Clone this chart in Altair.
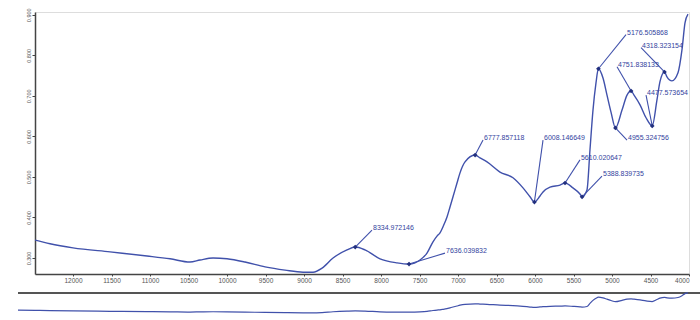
import altair as alt
import pandas as pd

# ---- main spectrum (wavenumber, absorbance) ----
wavenumber = [12715, 12494, 12299, 12000, 11519, 11039, 10740, 10481, 10351, 10182,
              10000, 9766, 9506, 9247, 9013, 8883, 8766, 8623, 8442, 8335,
              8208, 8013, 7792, 7636, 7494, 7403, 7325, 7273, 7234, 7195,
              7143, 7104, 7065, 7013, 6974, 6909, 6778, 6714, 6623, 6455,
              6286, 6156, 6065, 6008, 5935, 5896, 5805, 5675, 5610, 5507,
              5416, 5389, 5325, 5286, 5247, 5208, 5177, 5117, 5065, 5013,
              4955, 4870, 4805, 4752, 4714, 4636, 4558, 4478, 4416, 4377,
              4318, 4286, 4221, 4143, 4091, 4052, 4013]
absorbance = [0.350, 0.344, 0.335, 0.325, 0.315, 0.305, 0.298, 0.290, 0.295, 0.300,
              0.298, 0.290, 0.278, 0.270, 0.265, 0.265, 0.275, 0.300, 0.320, 0.327,
              0.320, 0.298, 0.288, 0.285, 0.295, 0.312, 0.340, 0.354, 0.362, 0.377,
              0.401, 0.426, 0.451, 0.485, 0.510, 0.537, 0.554, 0.547, 0.537, 0.512,
              0.498, 0.473, 0.451, 0.438, 0.453, 0.463, 0.475, 0.480, 0.485, 0.473,
              0.458, 0.451, 0.468, 0.567, 0.665, 0.732, 0.767, 0.744, 0.702, 0.660,
              0.621, 0.665, 0.702, 0.712, 0.702, 0.678, 0.646, 0.626, 0.690, 0.735,
              0.759, 0.747, 0.737, 0.757, 0.814, 0.880, 0.902]

# ---- peak annotations ----
peak_labels = ["8334.972146", "7636.039832", "6777.857118", "6008.146649", "5610.020647",
               "5388.839735", "5176.505868", "4751.838133", "4955.324756", "4477.573654",
               "4318.323154"]
peak_w = [8334.97, 7636.04, 6777.86, 6008.15, 5610.02, 5388.84, 5176.51, 4751.84, 4955.32, 4477.57, 4318.32]
peak_v = [0.327, 0.285, 0.554, 0.438, 0.485, 0.451, 0.767, 0.712, 0.621, 0.626, 0.759]
label_w = [8117, 7169, 6675, 5896, 5416, 5130, 4818, 4935, 4805, 4558, 4623]
label_v = [0.369, 0.312, 0.591, 0.591, 0.542, 0.502, 0.851, 0.772, 0.591, 0.702, 0.819]

x_ticks = [12000, 11500, 11000, 10500, 10000, 9500, 9000, 8500, 8000, 7500, 7000,
           6500, 6000, 5500, 5000, 4500, 4000]
y_ticks = [0.3, 0.4, 0.5, 0.6, 0.7, 0.8, 0.9]

assert len(wavenumber) == len(absorbance)

spec = pd.DataFrame({"w": wavenumber, "a": absorbance, "i": list(range(len(wavenumber)))})
ann = pd.DataFrame({"t": peak_labels, "pw": peak_w, "pv": peak_v, "lw": label_w, "lv": label_v})

BLUE = "#4051ab"
DARK = "#22307e"
TXT = "#33439e"

xs = alt.Scale(domain=[4000, 12494], reverse=True, nice=False, zero=False)
ys = alt.Scale(domain=[0.2605, 0.907], nice=False, zero=False)

x_axis = alt.Axis(values=x_ticks, format="d", title=None, grid=False, labelFontSize=6.5,
                  labelColor="#555", domainColor="#444", domainWidth=1.5, tickColor="#444",
                  tickSize=2, labelPadding=1, labelFlush=True, labelFont="Liberation Sans")
y_axis = alt.Axis(values=y_ticks, format=".3f", title=None, grid=False, labelFontSize=5.5,
                  labelColor="#555", domainColor="#444", domainWidth=1.5, tickColor="#444",
                  tickSize=3, labelPadding=1, labelAngle=270, labelAlign="center",
                  labelBaseline="bottom", labelFont="Liberation Sans")

main = alt.Chart(spec).mark_line(color=BLUE, strokeWidth=1.4, interpolate="monotone", clip=True).encode(
    x=alt.X("w:Q", scale=xs, axis=x_axis),
    y=alt.Y("a:Q", scale=ys, axis=y_axis),
    order="i:Q",
)

leaders = alt.Chart(ann).mark_rule(color=BLUE, strokeWidth=1.1).encode(
    x=alt.X("pw:Q", scale=xs), y=alt.Y("pv:Q", scale=ys), x2="lw:Q", y2="lv:Q"
)

markers = alt.Chart(ann).mark_point(shape="diamond", filled=True, size=22, color=DARK, opacity=1).encode(
    x=alt.X("pw:Q", scale=xs), y=alt.Y("pv:Q", scale=ys)
)

labels = alt.Chart(ann).mark_text(align="left", baseline="middle", dx=1, dy=-2, fontSize=7,
                                   color=TXT, font="Liberation Sans").encode(
    x=alt.X("lw:Q", scale=xs), y=alt.Y("lv:Q", scale=ys), text="t:N"
)

sep = alt.Chart(spec).mark_rule(color="#555", strokeWidth=2).encode(
    x=alt.value(-17), x2=alt.value(665), y=alt.value(281)
)

overview = alt.Chart(spec).mark_line(color=BLUE, strokeWidth=1.2, interpolate="monotone").encode(
    x=alt.X("w:Q", scale=xs),
    y=alt.Y("a:Q", scale=alt.Scale(domain=[0.26, 0.90], range=[301, 281], nice=False, zero=False), axis=None),
    order="i:Q",
)

top = alt.layer(main, leaders, markers, labels, sep)
chart = alt.layer(top, overview).resolve_scale(y="independent").properties(
    width=654, height=262,
    padding={"left": 35, "top": 12, "right": 11, "bottom": 46},
    autosize=alt.AutoSizeParams(type="none"),
).configure_view(stroke=None).configure(background="white")

chart.save("out.html", embed_options={"renderer": "svg", "actions": False})
